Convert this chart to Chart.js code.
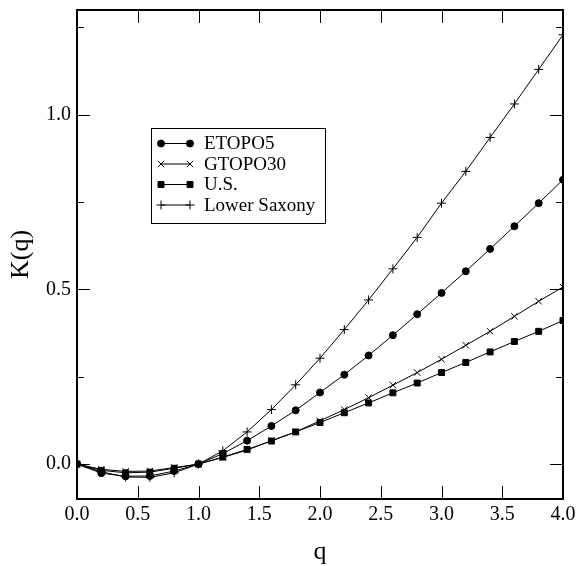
<!DOCTYPE html>
<html>
<head>
<meta charset="utf-8">
<script src="https://cdn.jsdelivr.net/npm/chart.js@4/dist/chart.umd.min.js"></script>
<style>
  body { margin: 0; background: #fff; }
  canvas { display: block; }
</style>
</head>
<body>
<canvas id="kq" width="576" height="566"></canvas>
<script>
// q values and K(q)
const qValues = [0, 0.2, 0.4, 0.6, 0.8, 1.0, 1.2, 1.4, 1.6, 1.8, 2.0, 2.2, 2.4, 2.6, 2.8, 3.0, 3.2, 3.4, 3.6, 3.8, 4.0];
const etopo5 = [0, -0.026, -0.035, -0.034, -0.02, 0, 0.030, 0.067, 0.109, 0.154, 0.205, 0.256, 0.311, 0.369, 0.429, 0.490, 0.552, 0.616, 0.681, 0.747, 0.814];
const gtopo30 = [0, -0.015, -0.021, -0.020, -0.010, 0, 0.019, 0.040, 0.067, 0.092, 0.124, 0.156, 0.190, 0.226, 0.262, 0.300, 0.340, 0.380, 0.423, 0.466, 0.507];
const usData = [0, -0.018, -0.025, -0.023, -0.012, 0, 0.020, 0.042, 0.066, 0.092, 0.119, 0.147, 0.175, 0.204, 0.232, 0.262, 0.291, 0.321, 0.351, 0.380, 0.411];
const lowerSaxony = [0, -0.022, -0.037, -0.038, -0.025, 0, 0.038, 0.092, 0.156, 0.227, 0.303, 0.385, 0.470, 0.559, 0.649, 0.747, 0.838, 0.935, 1.031, 1.130, 1.229];

const xTicks = [0, 0.5, 1.0, 1.5, 2.0, 2.5, 3.0, 3.5, 4.0];
const yTicks = [0, 0.25, 0.5, 0.75, 1.0, 1.25];

const seriesNames = ['ETOPO5', 'GTOPO30', 'U.S.', 'Lower Saxony'];
const seriesData = [etopo5, gtopo30, usData, lowerSaxony];
const markers = [
  { style: 'circle', r: 3.5 },
  { style: 'crossRot', r: 4.5 },
  { style: 'rect', r: 4.2 },
  { style: 'cross', r: 4.5 }
];

const serif = '"Liberation Serif", "DejaVu Serif", serif';

// inward ticks on all four sides, frame, and the boxed legend
const frameAndLegend = {
  id: 'frameAndLegend',
  afterDraw(chart) {
    const ctx = chart.ctx;
    const a = chart.chartArea;
    const xs = chart.scales.x, ys = chart.scales.y;
    ctx.save();
    ctx.strokeStyle = '#000';
    ctx.lineWidth = 1;
    ctx.beginPath();
    xs.ticks.forEach(t => {
      const px = Math.round(xs.getPixelForValue(t.value)) + 0.5;
      ctx.moveTo(px, a.bottom); ctx.lineTo(px, a.bottom - 13);
      ctx.moveTo(px, a.top); ctx.lineTo(px, a.top + 13);
    });
    ys.ticks.forEach(t => {
      const py = Math.round(ys.getPixelForValue(t.value)) + 0.5;
      const major = Math.abs(t.value * 2 - Math.round(t.value * 2)) < 1e-9;
      const len = major ? 13 : 7;
      ctx.moveTo(a.left, py); ctx.lineTo(a.left + len, py);
      ctx.moveTo(a.right, py); ctx.lineTo(a.right - len, py);
    });
    ctx.stroke();
    ctx.lineWidth = 2;
    ctx.strokeRect(a.left, a.top, a.right - a.left, a.bottom - a.top);

    // legend
    const bx = 151, by = 128, bw = 174, bh = 95;
    ctx.fillStyle = '#fff';
    ctx.fillRect(bx, by, bw, bh);
    ctx.lineWidth = 1;
    ctx.strokeRect(bx + 0.5, by + 0.5, bw, bh);
    ctx.font = '19px ' + serif;
    ctx.textBaseline = 'middle';
    ctx.textAlign = 'left';
    seriesNames.forEach((name, i) => {
      const ly = by + 15.5 + i * 20.5;
      ctx.strokeStyle = '#000';
      ctx.lineWidth = 1;
      ctx.beginPath();
      ctx.moveTo(161, ly); ctx.lineTo(190, ly);
      ctx.stroke();
      const m = markers[i];
      const opts = { pointStyle: m.style, radius: m.r, borderWidth: 1, rotation: 0 };
      ctx.fillStyle = '#000';
      Chart.helpers.drawPoint(ctx, opts, 161, ly);
      Chart.helpers.drawPoint(ctx, opts, 190, ly);
      ctx.fillStyle = '#000';
      ctx.fillText(name, 204, ly + 1);
    });
    ctx.restore();
  }
};

const datasets = seriesNames.map((name, i) => ({
  label: name,
  data: qValues.map((q, j) => ({ x: q, y: seriesData[i][j] })),
  borderColor: '#000',
  backgroundColor: '#000',
  borderWidth: 1,
  pointStyle: markers[i].style,
  pointRadius: markers[i].r,
  pointBorderWidth: 1,
  pointBackgroundColor: '#000',
  pointBorderColor: '#000',
  tension: 0
}));

new Chart(document.getElementById('kq'), {
  type: 'scatter',
  data: { datasets },
  options: {
    responsive: false,
    animation: false,
    showLine: true,
    layout: { padding: { top: 10, right: 13, left: 0, bottom: 0 } },
    plugins: { legend: { display: false }, tooltip: { enabled: false } },
    scales: {
      x: {
        type: 'linear',
        min: 0, max: 4,
        afterBuildTicks: s => { s.ticks = xTicks.map(v => ({ value: v })); },
        afterFit: s => { s.height = 67; s.paddingLeft = 0; s.paddingRight = 0; },
        grid: { display: true, drawOnChartArea: false, drawTicks: false },
        border: { display: false },
        ticks: {
          padding: 4,
          color: '#000',
          font: { family: serif, size: 20 },
          maxRotation: 0,
          callback: v => v.toFixed(1)
        },
        title: {
          display: true, text: 'q', color: '#000',
          font: { family: serif, size: 26 },
          padding: { top: 0, bottom: -2 }
        }
      },
      y: {
        type: 'linear',
        min: -0.1, max: 1.3,
        afterBuildTicks: s => { s.ticks = yTicks.map(v => ({ value: v })); },
        afterFit: s => { s.width = 77; s.paddingTop = 0; s.paddingBottom = 0; },
        grid: { display: true, drawOnChartArea: false, drawTicks: false },
        border: { display: false },
        ticks: {
          padding: 6,
          color: '#000',
          font: { family: serif, size: 20 },
          callback: v => (Math.abs(v * 2 - Math.round(v * 2)) < 1e-9 ? v.toFixed(1) : '')
        },
        title: {
          display: true, text: 'K(q)', color: '#000',
          font: { family: serif, size: 26 },
          padding: { top: 6, bottom: 0 }
        }
      }
    }
  },
  plugins: [frameAndLegend]
});
</script>
</body>
</html>
